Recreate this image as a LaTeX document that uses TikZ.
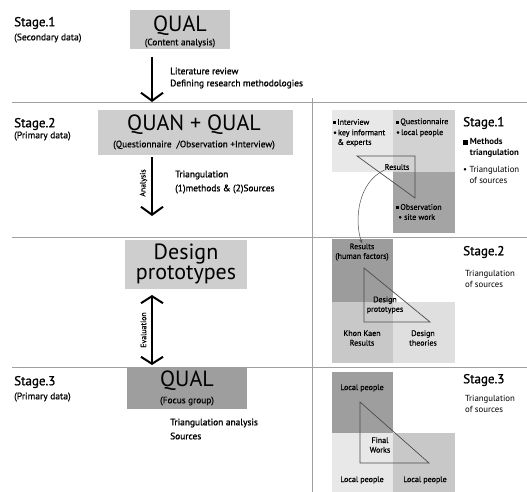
\documentclass[tikz,border=0pt]{standalone}
\usepackage{fontspec}
\setmainfont{PT Sans}
\newfontfamily\semib[FakeBold=1.2]{PT Sans}
\newfontfamily\semic[FakeBold=0.6]{PT Sans}
\usetikzlibrary{arrows.meta}
\definecolor{gA}{HTML}{C8C8C8}
\definecolor{gB}{HTML}{CECECE}
\definecolor{gD}{HTML}{9E9E9E}
\definecolor{sqL}{HTML}{E8E8E8}
\definecolor{sqM}{HTML}{D2D2D2}
\definecolor{sqK}{HTML}{A4A4A4}
\definecolor{rule}{HTML}{A0A0A0}
\newcommand{\sqb}{\rule[0.6pt]{2.8pt}{2.8pt}\,}
\newcommand{\sqB}{\rule[0.3pt]{4.5pt}{4.5pt}\ }
\begin{document}
\begin{tikzpicture}[x=1pt,y=-1pt,
  bigtxt/.style={inner sep=0, font=\fontsize{22}{24}\selectfont},
  subtxt/.style={inner sep=0, font=\semic\fontsize{9.3}{11}\selectfont},
  stagetxt/.style={anchor=west, inner sep=0, font=\semib\fontsize{13}{15}\selectfont},
  stagesub/.style={anchor=west, inner sep=0, font=\semic\fontsize{9.5}{11}\selectfont},
  smalltxt/.style={anchor=west, inner sep=0, font=\semib\fontsize{9.4}{11}\selectfont},
  tinytxt/.style={inner sep=0, font=\semic\fontsize{8}{9.6}\selectfont, align=center},
  tinyw/.style={anchor=west, inner sep=0, font=\semic\fontsize{8}{9.6}\selectfont},
  desc/.style={anchor=west, inner sep=0, font=\fontsize{8.8}{10.5}\selectfont, align=left},
  rotl/.style={inner sep=0, rotate=90, font=\semic\fontsize{7.8}{9}\selectfont},
  boxA/.style={fill=gA, inner sep=0},
  bar/.style={line width=2pt, -{Straight Barb[length=8pt,width=22pt,line width=2pt]}},
  dbar/.style={line width=2pt, {Straight Barb[length=7pt,width=22pt,line width=2pt]}-{Straight Barb[length=7pt,width=22pt,line width=2pt]}},
  tri/.style={draw=black!70, line width=0.7pt, line join=miter},
  sep/.style={draw=rule, line width=1pt}]
\useasboundingbox (0,0) rectangle (527,492);

% separators
\draw[sep] (12,103) -- (527,103);
\draw[sep] (12,237) -- (527,237);
\draw[sep] (12,367) -- (527,367);
\draw[draw=rule, line width=0.6pt] (312,98) -- (312,492);

% ---------- left column ----------
\node[boxA, minimum width=100pt, minimum height=39pt] (q1) at (180,29.5) {};
\node[bigtxt] (q1t) at (180,26) {QUAL};
\node[subtxt] (q1s) at (180,43) {(Content analysis)};
\node[stagetxt] (s1) at (14,23) {Stage.1};
\node[stagesub] (s1d) at (14,38) {(Secondary data)};
\coordinate (a1s) at (152,57);
\coordinate (a1e) at (152,102);
\draw[bar] (a1s) -- (a1e);
\node[smalltxt] (lr) at (170,71) {Literature review};
\node[smalltxt] (drm) at (170,84) {Defining research methodologies};

\node[fill=gB, inner sep=0, minimum width=195pt, minimum height=45pt] (q2) at (195.5,132.5) {};
\node[bigtxt] (q2t) at (194,125) {QUAN + QUAL};
\node[subtxt] (q2s) at (194,145) {(Questionnaire \ /Observation +Interview)};
\node[stagetxt] (s2) at (14,124) {Stage.2};
\node[stagesub] (s2d) at (14,136) {(Primary data)};
\coordinate (a2s) at (152,157);
\coordinate (a2e) at (152,216);
\draw[bar] (a2s) -- (a2e);
\node[rotl] (an) at (143.5,183) {Analysis};
\node[smalltxt] (tr2) at (175,175) {Triangulation};
\node[smalltxt] (ms2) at (175,189) {(1)methods \& (2)Sources};

\node[fill=gB, inner sep=0, minimum width=122pt, minimum height=49pt] (dp) at (186,264.5) {};
\node[bigtxt] (dpt1) at (186,254) {Design};
\node[bigtxt] (dpt2) at (186,275) {prototypes};
\coordinate (a3s) at (152,295);
\coordinate (a3e) at (152,365);
\draw[dbar] (a3s) -- (a3e);
\node[rotl] (ev) at (143.5,330) {Evaluation};

\node[fill=gD, inner sep=0, minimum width=120pt, minimum height=42pt] (q3) at (187,388) {};
\node[bigtxt] (q3t) at (187,381) {QUAL};
\node[subtxt] (q3s) at (187,401) {(Focus group)};
\node[stagetxt] (s3) at (14,382) {Stage.3};
\node[stagesub] (s3d) at (14,397) {(Primary data)};
\node[smalltxt] (ta) at (170,423) {Triangulation analysis};
\node[smalltxt] (so) at (170,436) {Sources};

% ---------- right panel: stage 1 ----------
\fill[sqL] (332,110) rectangle (393,172);
\fill[sqM] (393,110) rectangle (455,172);
\fill[sqK] (393,172) rectangle (455,233);
\draw[tri] (357,156) -- (415,156) -- (415,198) -- cycle;
\node[tinyw] (iv) at (333,122) {\sqb Interview};
\node[tinyw, align=left] (ki) at (333,138) {\textbullet\,key informant\\\ \ \& experts};
\node[tinyw] (qn) at (396,122) {\sqb Questionnaire};
\node[tinyw] (lp) at (396,133) {\textbullet\,local people};
\node[tinyw] (ob) at (396,207) {\sqb Observation};
\node[tinyw] (sw) at (396,217) {\ \textbullet\ site work};
\node[tinytxt] (r1) at (397,167) {Results};
\node[stagetxt] (rs1) at (463,123) {Stage.1};
\node[desc, font=\fontsize{8.8}{10.5}\bfseries] (mt) at (463,148) {\sqB Methods\\\hphantom{\sqB}triangulation};
\node[desc] (ts1) at (463,175) {\textbullet\ Triangulation\\\hphantom{\textbullet\ }of sources};

% ---------- right panel: stage 2 ----------
\fill[sqK!95!black] (332,239) rectangle (393,302);
\fill[gA] (332,302) rectangle (393,363);
\fill[sqL!96!black] (393,302) rectangle (455,363);
\draw[tri] (364,268) -- (430,322) -- (364,322) -- cycle;
\node[tinytxt] (r2) at (362,252) {Results\\(human factors)};
\node[tinytxt] (dpp) at (385,305) {Design\\prototypes};
\node[tinytxt] (kk) at (362,338) {Khon Kaen\\Results};
\node[tinytxt] (dt) at (423,338) {Design\\theories};
\node[stagetxt] (rs2) at (463,252) {Stage.2};
\node[desc] (ts2) at (465,279) {Triangulation\\of sources};
\draw[black!70, line width=0.5pt, -{Stealth[length=4pt,width=3pt]}] (r1.south west) .. controls (358,182) and (354,220) .. (r2.north);

% ---------- right panel: stage 3 ----------
\fill[gD] (332,372) rectangle (393,433);
\fill[sqL] (332,433) rectangle (393,492);
\fill[gA] (393,433) rectangle (455,492);
\draw[tri] (360,402) -- (429,463) -- (360,463) -- cycle;
\node[tinytxt] (lp1) at (362,388) {Local people};
\node[tinytxt] (fw) at (380,445) {Final\\Works};
\node[tinytxt] (lp2) at (362,480) {Local people};
\node[tinytxt] (lp3) at (425,480) {Local people};
\node[stagetxt] (rs3) at (463,380) {Stage.3};
\node[desc] (ts3) at (465,404) {Triangulation\\of sources};
\end{tikzpicture}
\end{document}
